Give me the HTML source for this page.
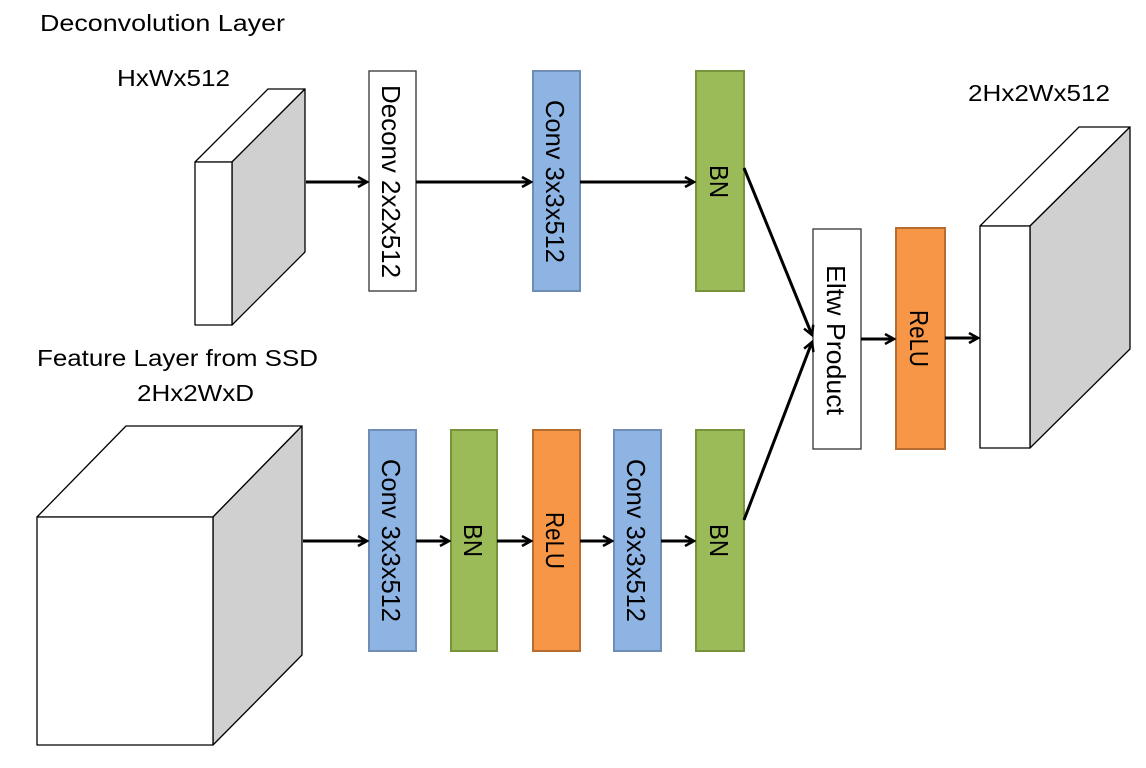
<!DOCTYPE html>
<html><head><meta charset="utf-8"><style>html,body{margin:0;padding:0;background:#fff}</style></head>
<body>
<svg width="1146" height="763" viewBox="0 0 1146 763" xmlns="http://www.w3.org/2000/svg" font-family="Liberation Sans, sans-serif">
<defs>
<marker id="a" markerWidth="12" markerHeight="12" refX="10" refY="6" orient="auto" markerUnits="userSpaceOnUse">
<path d="M1,1 L10,6 L1,11" fill="none" stroke="#000" stroke-width="2.5"/>
</marker>
</defs>
<g font-size="23" fill="#000">
<text x="40" y="31" textLength="245" lengthAdjust="spacingAndGlyphs">Deconvolution Layer</text>
<text x="117" y="86" textLength="113" lengthAdjust="spacingAndGlyphs">HxWx512</text>
<text x="37" y="366" textLength="281" lengthAdjust="spacingAndGlyphs">Feature Layer from SSD</text>
<text x="137" y="401" textLength="117" lengthAdjust="spacingAndGlyphs">2Hx2WxD</text>
<text x="968" y="101" textLength="142" lengthAdjust="spacingAndGlyphs">2Hx2Wx512</text>
</g>
<g stroke="#000" stroke-width="1.3" stroke-linejoin="round">
<polygon points="195,162 268,89 305,89 232,162" fill="#fff"/>
<polygon points="232,162 305,89 305,252 232,325" fill="#d0d0d0"/>
<rect x="195" y="162" width="37" height="163" fill="#fff"/>
<polygon points="37,517 126,426 302,426 213,517" fill="#fff"/>
<polygon points="213,517 302,426 302,655 213,745" fill="#d0d0d0"/>
<rect x="37" y="517" width="176" height="228" fill="#fff"/>
<polygon points="980,226 1079,127 1130,127 1030,226" fill="#fff"/>
<polygon points="1030,226 1130,127 1130,349 1030,448" fill="#d0d0d0"/>
<rect x="980" y="226" width="50" height="222" fill="#fff"/>
</g>
<g stroke-width="2">
<rect x="369" y="71" width="47" height="220" fill="#fff" stroke="#333" stroke-width="1.3"/>
<rect x="533" y="71" width="47" height="220" fill="#8eb4e3" stroke="#6f8db5"/>
<rect x="696" y="71" width="48" height="220" fill="#9bbb59" stroke="#77933c"/>
<rect x="813" y="229" width="48" height="220" fill="#fff" stroke="#333" stroke-width="1.3"/>
<rect x="896" y="228" width="49" height="221" fill="#f79646" stroke="#b66d31"/>
<rect x="369" y="430" width="47" height="221" fill="#8eb4e3" stroke="#6f8db5"/>
<rect x="451" y="430" width="46" height="221" fill="#9bbb59" stroke="#77933c"/>
<rect x="533" y="430" width="47" height="221" fill="#f79646" stroke="#b66d31"/>
<rect x="614" y="430" width="47" height="221" fill="#8eb4e3" stroke="#6f8db5"/>
<rect x="696" y="430" width="48" height="221" fill="#9bbb59" stroke="#77933c"/>
</g>
<g font-size="26" fill="#000">
<text transform="translate(382,85) rotate(90)" textLength="193" lengthAdjust="spacingAndGlyphs">Deconv 2x2x512</text>
<text transform="translate(546,100) rotate(90)" textLength="163" lengthAdjust="spacingAndGlyphs">Conv 3x3x512</text>
<text transform="translate(710,165) rotate(90)" textLength="33" lengthAdjust="spacingAndGlyphs">BN</text>
<text transform="translate(827,265) rotate(90)" textLength="150" lengthAdjust="spacingAndGlyphs">Eltw Product</text>
<text transform="translate(910,310) rotate(90)" textLength="57" lengthAdjust="spacingAndGlyphs">ReLU</text>
<text transform="translate(382,459) rotate(90)" textLength="163" lengthAdjust="spacingAndGlyphs">Conv 3x3x512</text>
<text transform="translate(464,524) rotate(90)" textLength="33" lengthAdjust="spacingAndGlyphs">BN</text>
<text transform="translate(546,512) rotate(90)" textLength="57" lengthAdjust="spacingAndGlyphs">ReLU</text>
<text transform="translate(627,459) rotate(90)" textLength="163" lengthAdjust="spacingAndGlyphs">Conv 3x3x512</text>
<text transform="translate(710,524) rotate(90)" textLength="33" lengthAdjust="spacingAndGlyphs">BN</text>
</g>
<g stroke="#000" stroke-width="3" fill="none" marker-end="url(#a)">
<line x1="306" y1="182" x2="367" y2="182"/>
<line x1="416" y1="182" x2="531" y2="182"/>
<line x1="580" y1="182" x2="694" y2="182"/>
<line x1="744" y1="168" x2="812" y2="335"/>
<line x1="744" y1="520" x2="812" y2="342"/>
<line x1="861" y1="339" x2="894" y2="339"/>
<line x1="945" y1="338" x2="978" y2="338"/>
<line x1="303" y1="541" x2="367" y2="541"/>
<line x1="416" y1="541" x2="449" y2="541"/>
<line x1="497" y1="541" x2="531" y2="541"/>
<line x1="580" y1="541" x2="612" y2="541"/>
<line x1="661" y1="541" x2="694" y2="541"/>
</g>
</svg>
</body></html>
